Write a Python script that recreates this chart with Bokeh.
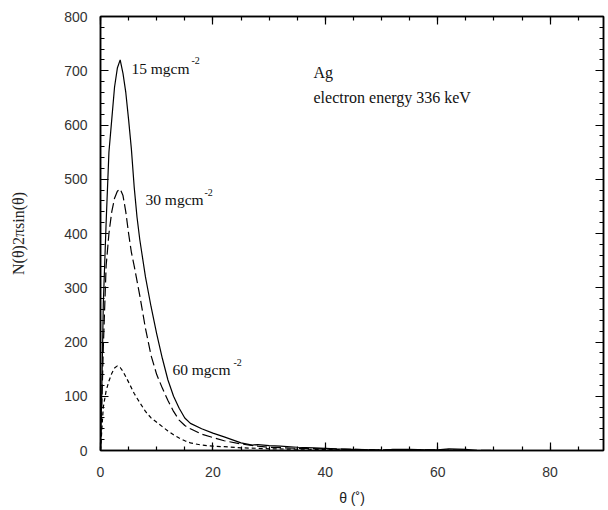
from bokeh.plotting import figure
from bokeh.models import Range1d, LinearAxis, Label, SingleIntervalTicker
from bokeh.embed import file_html
from bokeh.resources import INLINE

# ---- data ----
theta_15 = [0, 0.25, 0.5, 1, 1.5, 2, 2.5, 3, 3.5, 4, 4.5, 5, 5.5, 6, 6.5, 7, 8, 9, 10,
            11, 12, 13, 14, 15, 16, 18, 20, 22, 25, 27, 28, 30, 32, 35, 38, 40, 42,
            45, 48, 50, 52, 55, 58, 60, 62, 65, 67, 70, 89.5]
n_15 = [0, 120, 270, 420, 550, 610, 670, 705, 720, 695, 660, 610, 555, 485, 430, 388,
        320, 265, 215, 170, 130, 100, 78, 60, 50, 40, 32, 25, 14, 10, 11, 9, 8, 6, 5,
        4, 3, 2, 1, 0, 2, 2, 1, 1, 3, 2, 0, 0, 0]

theta_30 = [0, 0.25, 0.5, 1, 1.5, 2, 2.5, 3, 3.5, 4, 4.5, 5, 5.5, 6, 7, 8, 9, 10, 11,
            12, 13, 14, 15, 16, 18, 20, 22, 25, 28, 30, 35, 40, 45, 50, 60, 70, 89.5]
n_30 = [0, 90, 190, 340, 400, 440, 465, 478, 482, 470, 440, 400, 365, 340, 285, 225,
        175, 140, 115, 92, 72, 56, 46, 40, 30, 24, 18, 12, 8, 6, 4, 3, 2, 1, 1, 0, 0]

theta_60 = [0, 0.25, 0.5, 1, 1.5, 2, 2.5, 3, 3.5, 4, 4.5, 5, 6, 7, 8, 9, 10, 11, 12,
            13, 14, 15, 16, 18, 20, 22, 25, 28, 30, 40, 50, 60, 89.5]
n_60 = [0, 40, 80, 110, 128, 142, 152, 156, 153, 146, 136, 126, 105, 88, 72, 60, 52,
        44, 36, 29, 23, 18, 14, 10, 8, 7, 5, 4, 3, 2, 1, 0, 0]

x_major_ticks = [0, 20, 40, 60, 80]
y_major_ticks = [0, 100, 200, 300, 400, 500, 600, 700, 800]

serif = "Liberation Serif"
sans = "Liberation Sans"

p = figure(frame_width=503, frame_height=434,
           min_border_left=100, min_border_right=4, min_border_top=16, min_border_bottom=60,
           x_range=Range1d(0, 89.5), y_range=Range1d(0, 800),
           output_backend="svg", toolbar_location=None)
p.background_fill_color = "white"
p.border_fill_color = "white"
p.outline_line_color = "black"
p.outline_line_width = 1.5
p.xgrid.visible = False
p.ygrid.visible = False

p.line(theta_15, n_15, line_color="black", line_width=1.2)
p.line(theta_30, n_30, line_color="black", line_width=1.2, line_dash="10 4")
p.line(theta_60, n_60, line_color="black", line_width=1.2, line_dash="4 3")

def style_axis(ax, show_labels):
    ax.axis_line_color = "black"
    ax.axis_line_width = 1.5
    ax.major_tick_in = 8
    ax.major_tick_out = 0
    ax.minor_tick_in = 4
    ax.minor_tick_out = 0
    ax.major_tick_line_color = "black"
    ax.minor_tick_line_color = "black"
    ax.major_tick_line_width = 1.2
    ax.minor_tick_line_width = 1.2
    if show_labels:
        ax.major_label_text_font = sans
        ax.major_label_text_font_size = "14px"
        ax.major_label_text_color = "#333333"
    else:
        ax.major_label_text_font_size = "0px"
        ax.major_label_standoff = 0
        ax.major_label_text_alpha = 0

xt = SingleIntervalTicker(interval=20, num_minor_ticks=4)
yt = SingleIntervalTicker(interval=100, num_minor_ticks=5)

p.xaxis.ticker = xt
p.yaxis.ticker = yt
style_axis(p.xaxis[0], True)
style_axis(p.yaxis[0], True)
p.xaxis.major_label_standoff = 16
p.yaxis.major_label_standoff = 13
p.xaxis.axis_label = "θ (˚)"
p.xaxis.axis_label_text_font = sans
p.xaxis.axis_label_text_font_size = "14px"
p.xaxis.axis_label_text_font_style = "normal"
p.xaxis.axis_label_standoff = 10
p.xaxis.axis_label_text_color = "#222222"
p.yaxis.axis_label = "N(θ)2πsin(θ)"
p.yaxis.axis_label_text_font = serif
p.yaxis.axis_label_text_font_size = "16px"
p.yaxis.axis_label_text_font_style = "normal"
p.yaxis.axis_label_standoff = 34
p.yaxis.axis_label_text_color = "#222222"

top = LinearAxis(ticker=SingleIntervalTicker(interval=20, num_minor_ticks=4))
right = LinearAxis(ticker=SingleIntervalTicker(interval=100, num_minor_ticks=5))
style_axis(top, False)
style_axis(right, False)
p.add_layout(top, "above")
p.add_layout(right, "right")

def lab(x, y, text, size="15.5px", sup=None, sup_dx=0, sup_dy=0):
    p.add_layout(Label(x=x, y=y, text=text, text_font=serif, text_font_size=size,
                       text_baseline="middle", text_color="#111111"))
    if sup:
        p.add_layout(Label(x=x, y=y, text=sup, text_font=serif, text_font_size="10px",
                           text_baseline="middle", text_color="#111111",
                           x_offset=sup_dx, y_offset=sup_dy))

lab(5.5, 704, "15 mgcm", sup="-2", sup_dx=60, sup_dy=8)
lab(8.0, 463, "30 mgcm", sup="-2", sup_dx=59, sup_dy=7)
lab(12.8, 149, "60 mgcm", sup="-2", sup_dx=61, sup_dy=7)
lab(37.9, 697, "Ag", size="16px")
lab(37.9, 651, "electron energy 336 keV", size="16px")

open("out.html", "w").write(file_html(p, INLINE))
